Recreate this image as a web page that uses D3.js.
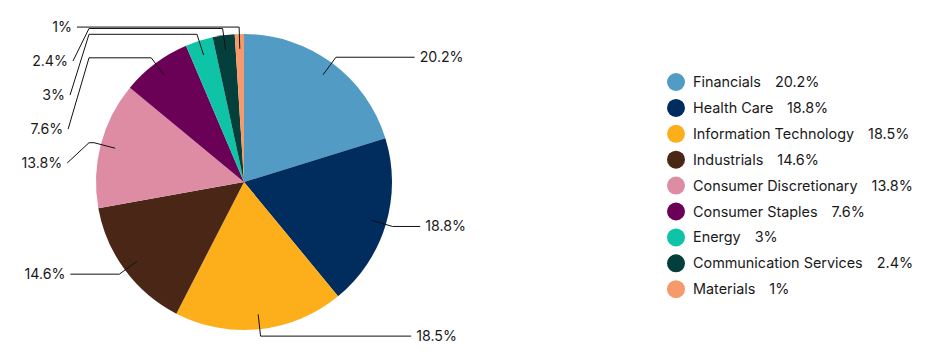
<!DOCTYPE html>
<html>
<head>
<meta charset="utf-8">
<script src="https://cdn.jsdelivr.net/npm/d3@7"></script>
<style>
  body { margin: 0; background: #fff; }
  text { font-family: Inter, "Noto Sans", sans-serif; }
</style>
</head>
<body>
<div id="chart"></div>
<script>
// sector weights
const sectors = ["Financials", "Health Care", "Information Technology", "Industrials",
  "Consumer Discretionary", "Consumer Staples", "Energy", "Communication Services", "Materials"];
const weights = [20.2, 18.8, 18.5, 14.6, 13.8, 7.6, 3, 2.4, 1];
const colors = ["#519bc5", "#002c5e", "#fdae1b", "#4a2616", "#de8ba4",
  "#6b0157", "#0fc4a6", "#053f3b", "#f69a6b"];

const width = 932;
const height = 356;
const cx = 244, cy = 182, radius = 148;
const tickOut = radius + 7;     // where the leader line bends
const labelGap = 34;            // min vertical distance between labels

const data = sectors.map((s, i) => ({ name: s, value: weights[i], color: colors[i] }));
const fmt = v => v + "%";

const svg = d3.select("#chart")
  .append("svg")
  .attr("width", width)
  .attr("height", height);

const pie = d3.pie().sort(null).value(d => d.value);
const arcs = pie(data);
const arc = d3.arc().innerRadius(0).outerRadius(radius);

const g = svg.append("g").attr("transform", `translate(${cx},${cy})`);

g.selectAll("path.slice")
  .data(arcs)
  .join("path")
    .attr("class", "slice")
    .attr("d", arc)
    .attr("fill", d => d.data.color);

// label layout
const polar = (a, r) => [Math.sin(a) * r, -Math.cos(a) * r];
const labels = arcs.map(d => {
  const a = (d.startAngle + d.endAngle) / 2;
  const inner = polar(a, radius * 0.9);
  const elbow = polar(a, tickOut);
  return { d, a, inner, elbow, side: a < Math.PI ? 1 : -1, y: elbow[1] };
});

[1, -1].forEach(side => {
  const group = labels.filter(l => l.side === side).sort((p, q) => p.elbow[1] - q.elbow[1]);
  let prev = -Infinity;
  group.forEach(l => {
    l.y = Math.max(l.elbow[1], prev + labelGap);
    prev = l.y;
  });
});

labels.forEach(l => {
  const dx = 177 * Math.sqrt(Math.max(0, 1 - (l.y / 470) ** 2));
  l.x = l.side * dx;
  l.bend = [l.side * tickOut, l.elbow[1]];
});

const line = d3.line();

g.selectAll("path.tick")
  .data(labels)
  .join("path")
    .attr("class", "tick")
    .attr("fill", "none")
    .attr("stroke", "#111")
    .attr("stroke-width", 1)
    .attr("d", l => line([l.inner, l.elbow, l.bend, [l.x, l.y]]));

g.selectAll("text.lbl")
  .data(labels)
  .join("text")
    .attr("class", "lbl")
    .attr("x", l => l.x + l.side * 5)
    .attr("y", l => l.y)
    .attr("dy", "0.35em")
    .attr("text-anchor", l => l.side > 0 ? "start" : "end")
    .attr("font-size", 14.2)
    .attr("fill", "#1a1a1a")
    .text(l => fmt(l.d.data.value));

// legend
const legend = svg.append("g").attr("transform", "translate(676,82)");
const rows = legend.selectAll("g")
  .data(data)
  .join("g")
    .attr("transform", (d, i) => `translate(0,${i * 25.9})`);

rows.append("circle")
  .attr("r", 9)
  .attr("fill", d => d.color);

const txt = rows.append("text")
  .attr("x", 17)
  .attr("dy", "0.35em")
  .attr("font-size", 14.4)
  .attr("fill", "#1a1a1a");
txt.append("tspan").text(d => d.name);
txt.append("tspan").attr("dx", 14).text(d => fmt(d.value));
</script>
</body>
</html>
